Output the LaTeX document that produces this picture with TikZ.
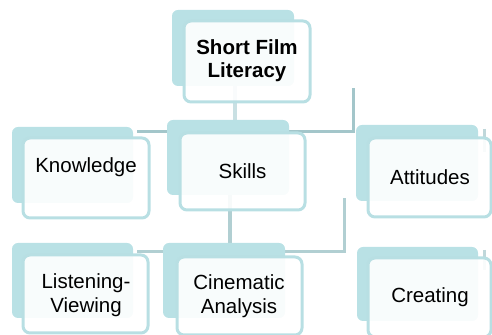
\documentclass[tikz,border=0pt]{standalone}
\usepackage{fontspec}
\setmainfont{Liberation Sans}
\definecolor{backc}{HTML}{B9E1E5}
\definecolor{framec}{HTML}{B8DFE3}
\definecolor{linkc}{HTML}{A3C6CA}
\definecolor{linklt}{HTML}{C9E0E3}
\begin{document}
\begin{tikzpicture}[x=0.5pt,y=-0.5pt,
  backbox/.style={rectangle, rounded corners=3pt, fill=backc, draw=none, inner sep=0pt},
  frontbox/.style={rectangle, rounded corners=3.5pt, fill=white, fill opacity=0.9, draw=framec, draw opacity=1, line width=1.5pt, inner sep=0pt},
  lbl/.style={font=\fontsize{10.25}{11.75}\selectfont, align=center, text=black, inner sep=0pt},
  link/.style={draw=linkc, line width=1.5pt},
  linklight/.style={draw=linklt, line width=2pt}]
\useasboundingbox (0,0) rectangle (492,335);

% connector end points
\coordinate (r1) at (235,86);
\coordinate (r2) at (235,125);
\coordinate (h1a) at (137,132);
\coordinate (h1b) at (353,132);
\coordinate (h1c) at (353,88);
\coordinate (t1a) at (484,129);
\coordinate (t1b) at (484,152);
\coordinate (s1) at (230,195);
\coordinate (s2) at (230,245);
\coordinate (h2a) at (137,252);
\coordinate (h2b) at (344,252);
\coordinate (h2c) at (344,198);
\coordinate (t2a) at (484,250);
\coordinate (t2b) at (484,270);

% connectors, behind the boxes
\draw[linklight] (r1) -- (r2);
\draw[link] (h1a) -- (h1b) -- (h1c);
\draw[link, draw=linkc!70] (t1a) -- (t1b);
\draw[linklight, draw=linkc!85] (s1) -- (s2);
\draw[link, draw=linkc!85] (h2a) -- (h2b) -- (h2c);
\draw[link, draw=linkc!70] (t2a) -- (t2b);

% Short Film Literacy
\node[backbox, minimum width=61pt, minimum height=38pt] (rootb) at (233,48) {};
\node[frontbox, minimum width=63pt, minimum height=40.5pt] (rootf) at (247,61.5) {};
\node[lbl, font=\fontsize{10.25}{11.5}\selectfont\bfseries] (root) at (247,61) {Short Film\\Literacy};

% Knowledge
\node[backbox, minimum width=60.5pt, minimum height=38pt] (knowb) at (72.5,165) {};
\node[frontbox, minimum width=63pt, minimum height=40pt] (knowf) at (86,178) {};
\node[lbl] (know) at (86,167) {Knowledge};

% Skills
\node[backbox, minimum width=61pt, minimum height=37.5pt] (skillb) at (228,157.5) {};
\node[frontbox, minimum width=62.5pt, minimum height=38.5pt] (skillf) at (242.5,171.5) {};
\node[lbl] (skill) at (242.5,171) {Skills};

% Attitudes
\node[backbox, minimum width=61pt, minimum height=38pt] (attb) at (417,163) {};
\node[frontbox, minimum width=61.5pt, minimum height=39.5pt] (attf) at (429.5,177.5) {};
\node[lbl] (att) at (430,177) {Attitudes};

% Listening-Viewing
\node[backbox, minimum width=60.5pt, minimum height=37.5pt] (listb) at (72.5,280.5) {};
\node[frontbox, minimum width=62.5pt, minimum height=39pt] (listf) at (85.5,294) {};
\node[lbl] (list) at (86,295) {Listening-\\Viewing};

% Cinematic Analysis
\node[backbox, minimum width=61pt, minimum height=37.5pt] (cinb) at (224,280.5) {};
\node[frontbox, minimum width=62.5pt, minimum height=39pt] (cinf) at (239.5,296) {};
\node[lbl] (cin) at (239,296) {Cinematic\\Analysis};

% Creating
\node[backbox, minimum width=60.5pt, minimum height=37pt] (creb) at (417.5,284) {};
\node[frontbox, minimum width=61.5pt, minimum height=39.5pt] (cref) at (429.5,297.5) {};
\node[lbl] (cre) at (430,297) {Creating};
\end{tikzpicture}
\end{document}
